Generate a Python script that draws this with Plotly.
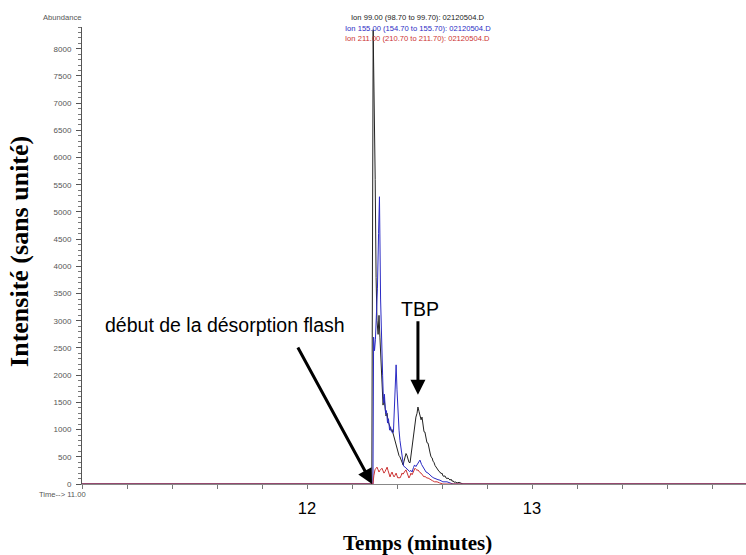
import plotly.graph_objects as go

# ---- data (time in minutes, abundance) ----
black_t = [11.0, 12.288, 12.294, 12.299, 12.303, 12.307, 12.311, 12.316, 12.320, 12.324, 12.329, 12.333,
           12.338, 12.342, 12.347, 12.351, 12.356, 12.360, 12.365, 12.369, 12.374, 12.378, 12.382, 12.387,
           12.391, 12.396, 12.400, 12.404, 12.409, 12.413, 12.418, 12.422, 12.427, 12.431, 12.436, 12.440,
           12.444, 12.449, 12.453, 12.458, 12.462, 12.467, 12.471, 12.476, 12.480, 12.484, 12.489, 12.493,
           12.498, 12.502, 12.507, 12.511, 12.516, 12.520, 12.524, 12.529, 12.533, 12.538, 12.542, 12.547,
           12.551, 12.556, 12.560, 12.564, 12.569, 12.573, 12.578, 12.582, 12.587, 12.591, 12.596, 12.600,
           12.604, 12.609, 12.613, 12.618, 12.622, 12.627, 12.631, 12.636, 12.640, 12.645, 12.649, 12.654,
           12.658, 12.667, 12.676, 12.684, 12.693, 13.951]
black_v = [0, 0, 8350, 7000, 5600, 3800, 3000, 2750, 3100, 2700, 2200, 1900,
           1450, 1600, 1350, 1250, 1300, 1150, 1100, 1050, 980, 1000, 940, 850,
           780, 700, 680, 600, 520, 500, 450, 380, 350, 420, 500, 560,
           530, 420, 400, 390, 520, 700, 870, 1050, 1150, 1230, 1300, 1415,
           1330, 1280, 1180, 1230, 1080, 960, 955, 850, 760, 750, 640, 570,
           500, 480, 420, 400, 340, 310, 300, 260, 230, 220, 190, 200,
           150, 140, 150, 110, 100, 110, 80, 70, 90, 50, 60, 30,
           40, 20, 30, 10, 0, 0]

blue_t = [11.0, 12.293, 12.296, 12.300, 12.304, 12.309, 12.313, 12.318, 12.322, 12.327, 12.331, 12.336,
          12.340, 12.344, 12.349, 12.353, 12.358, 12.362, 12.367, 12.371, 12.376, 12.380, 12.384, 12.389,
          12.393, 12.396, 12.400, 12.404, 12.409, 12.413, 12.418, 12.424, 12.429, 12.436, 12.442, 12.449,
          12.456, 12.462, 12.467, 12.473, 12.478, 12.484, 12.489, 12.496, 12.502, 12.509, 12.516, 12.522,
          12.529, 12.538, 12.547, 12.556, 12.564, 12.573, 12.582, 12.591, 12.604, 12.622, 12.636, 12.649,
          13.951]
blue_v = [0, 0, 2700, 2450, 2650, 3100, 3600, 4600, 5280, 3400, 2600, 2000,
          1490, 1650, 1300, 1350, 1120, 1200, 990, 1050, 960, 940, 950, 1600,
          2150, 2190, 1730, 1300, 990, 800, 625, 450, 330, 310, 280, 260,
          230, 250, 220, 300, 350, 320, 350, 400, 440, 360, 310, 260,
          220, 200, 160, 130, 110, 90, 80, 70, 40, 40, 20, 0,
          0]

red_t = [11.0, 12.293, 12.297, 12.302, 12.307, 12.311, 12.316, 12.320, 12.324, 12.329, 12.333, 12.338,
         12.342, 12.347, 12.351, 12.356, 12.360, 12.364, 12.369, 12.373, 12.378, 12.382, 12.387, 12.391,
         12.396, 12.400, 12.404, 12.409, 12.413, 12.418, 12.422, 12.427, 12.431, 12.436, 12.440, 12.444,
         12.449, 12.453, 12.458, 12.462, 12.467, 12.471, 12.476, 12.480, 12.484, 12.489, 12.493, 12.498,
         12.502, 12.507, 12.511, 12.516, 12.520, 12.524, 12.529, 12.533, 12.538, 12.544, 12.551, 12.558,
         12.567, 12.578, 12.589, 12.604, 13.951]
red_v = [0, 0, 150, 260, 290, 310, 260, 220, 250, 280, 290, 240,
         200, 230, 260, 310, 250, 180, 130, 180, 220, 170, 130, 160,
         200, 150, 110, 120, 110, 150, 200, 180, 220, 240, 260, 200,
         140, 110, 150, 200, 170, 200, 240, 290, 270, 250, 260, 230,
         210, 200, 170, 150, 130, 140, 120, 110, 110, 90, 70, 60,
         40, 40, 20, 0, 0]

ion_labels = ["Ion 99.00 (98.70 to 99.70): 02120504.D",
              "Ion 155.00 (154.70 to 155.70): 02120504.D",
              "Ion 211.00 (210.70 to 211.70): 02120504.D"]
series_colors = ["#222222", "#2b2bc4", "#cc3333"]
x_tick_vals = [12, 13]
x_tick_text = ["12", "13"]

fig = go.Figure()
for t, v, c, name in [(black_t, black_v, series_colors[0], ion_labels[0]),
                      (blue_t, blue_v, series_colors[1], ion_labels[1]),
                      (red_t, red_v, series_colors[2], ion_labels[2])]:
    fig.add_trace(go.Scatter(x=t, y=v, mode="lines", name=name,
                             line=dict(color=c, width=1), showlegend=False))

small = dict(family="Liberation Sans", size=7.6, color="#555")
annotations = []
# Ion header lines
for i, (txt, c) in enumerate(zip(ion_labels, series_colors)):
    annotations.append(dict(text=txt, xref="paper", yref="paper", x=0.506, y=1.0197 - i * 0.0219,
                            showarrow=False, font=dict(family="Liberation Sans", size=7.6, color=c),
                            xanchor="center", yanchor="middle"))
annotations += [
    dict(text="Abundance", xref="paper", yref="paper", x=-0.030, y=1.0197, showarrow=False,
         font=small, xanchor="center", yanchor="middle"),
    dict(text="Time--> 11.00", xref="paper", yref="paper", x=-0.030, y=-0.024, showarrow=False,
         font=small, xanchor="center", yanchor="middle"),
    dict(text="<b>Intensité (sans unité)</b>", xref="paper", yref="paper", x=-0.0934, y=0.51,
         textangle=-90, showarrow=False, font=dict(family="Liberation Serif", size=26, color="black"),
         xanchor="center", yanchor="middle"),
    dict(text="<b>Temps (minutes)</b>", xref="paper", yref="paper", x=0.506, y=-0.129,
         showarrow=False, font=dict(family="Liberation Serif", size=21, color="black"),
         xanchor="center", yanchor="middle"),
    dict(text="début de la désorption flash", xref="paper", yref="paper", x=0.216, y=0.348,
         showarrow=False, font=dict(family="Liberation Sans", size=19.5, color="black"),
         xanchor="center", yanchor="middle"),
    dict(text="TBP", xref="paper", yref="paper", x=0.509, y=0.383,
         showarrow=False, font=dict(family="Liberation Sans", size=19.5, color="black"),
         xanchor="center", yanchor="middle"),
    # arrows
    dict(text="", x=12.289, y=0, xref="x", yref="y", showarrow=True, ax=-75, ay=-138,
         arrowhead=2, arrowsize=1, arrowwidth=3, arrowcolor="black"),
    dict(text="", x=12.493, y=1640, xref="x", yref="y", showarrow=True, ax=0, ay=-75,
         arrowhead=2, arrowsize=1, arrowwidth=3, arrowcolor="black"),
]

fig.update_layout(
    width=746, height=555, autosize=False,
    margin=dict(l=82, r=0, t=27, b=71),
    plot_bgcolor="white", paper_bgcolor="white",
    annotations=annotations,
    xaxis=dict(range=[11.0, 13.951], tickvals=x_tick_vals, ticktext=x_tick_text,
               ticks="outside", ticklen=4, tickcolor="#777",
               minor=dict(dtick=0.2, tick0=11.0, ticks="outside", ticklen=4, tickcolor="#777"),
               tickfont=dict(family="Liberation Sans", size=16.5, color="black"),
               showline=True, linecolor="#888", linewidth=1, showgrid=False, zeroline=False,
               ticklabelstandoff=5),
    yaxis=dict(range=[0, 8400], dtick=500, tick0=0, ticks="outside", ticklen=5, tickcolor="#555",
               minor=dict(dtick=100, ticks="outside", ticklen=3, tickcolor="#777"),
               tickfont=dict(family="Liberation Sans", size=8, color="#555"),
               showline=True, linecolor="#555", linewidth=1, showgrid=False, zeroline=False,
               ticklabelstandoff=3),
)

fig.write_html("out.html", config={"displayModeBar": False},
               post_script="document.body.style.margin='0px';")
